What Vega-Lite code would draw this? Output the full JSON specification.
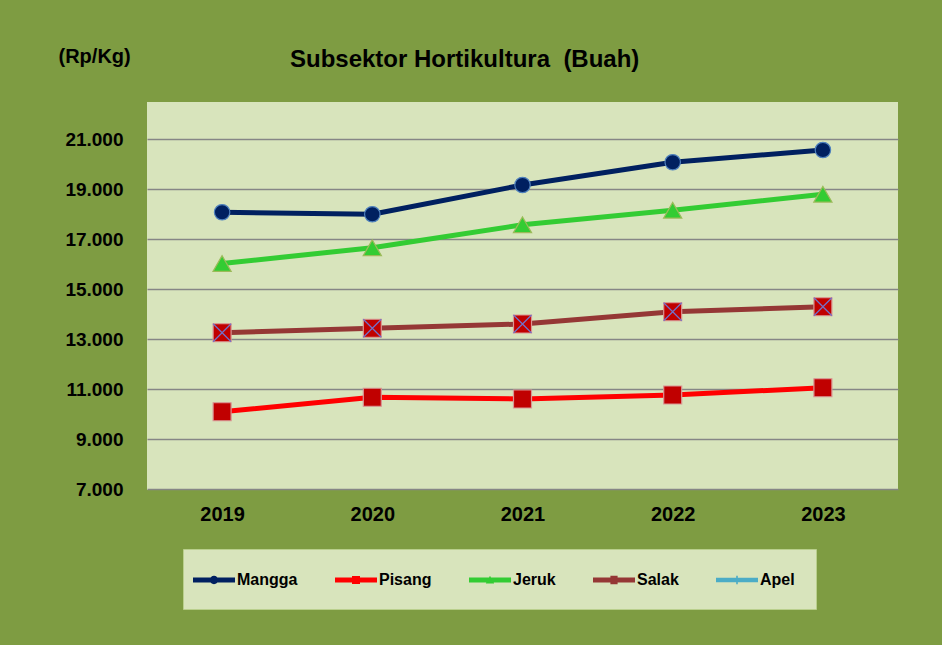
{
  "$schema": "https://vega.github.io/schema/vega-lite/v6.json",
  "width": 751,
  "height": 388,
  "autosize": "none",
  "padding": {"left": 147, "top": 102, "right": 44, "bottom": 155},
  "background": "#7E9C42",
  "title": {
    "text": "Subsektor Hortikultura \u00a0(Buah)",
    "anchor": "start",
    "frame": "group",
    "dx": 143,
    "offset": -45,
    "baseline": "alphabetic",
    "font": "Liberation Sans",
    "fontSize": 24,
    "fontWeight": "bold",
    "color": "#000000"
  },
  "config": {
    "view": {"fill": "#D8E4BC", "stroke": null},
    "font": "Liberation Sans"
  },
  "data": {
    "values": [
      {"Tahun": "2019", "Buah": "Mangga", "Harga": 18080},
      {"Tahun": "2020", "Buah": "Mangga", "Harga": 18000},
      {"Tahun": "2021", "Buah": "Mangga", "Harga": 19170},
      {"Tahun": "2022", "Buah": "Mangga", "Harga": 20080},
      {"Tahun": "2023", "Buah": "Mangga", "Harga": 20570},
      {"Tahun": "2019", "Buah": "Pisang", "Harga": 10100},
      {"Tahun": "2020", "Buah": "Pisang", "Harga": 10680},
      {"Tahun": "2021", "Buah": "Pisang", "Harga": 10610},
      {"Tahun": "2022", "Buah": "Pisang", "Harga": 10770},
      {"Tahun": "2023", "Buah": "Pisang", "Harga": 11060},
      {"Tahun": "2019", "Buah": "Jeruk", "Harga": 16030},
      {"Tahun": "2020", "Buah": "Jeruk", "Harga": 16660},
      {"Tahun": "2021", "Buah": "Jeruk", "Harga": 17580},
      {"Tahun": "2022", "Buah": "Jeruk", "Harga": 18160},
      {"Tahun": "2023", "Buah": "Jeruk", "Harga": 18800},
      {"Tahun": "2019", "Buah": "Salak", "Harga": 13260},
      {"Tahun": "2020", "Buah": "Salak", "Harga": 13440},
      {"Tahun": "2021", "Buah": "Salak", "Harga": 13610},
      {"Tahun": "2022", "Buah": "Salak", "Harga": 14100},
      {"Tahun": "2023", "Buah": "Salak", "Harga": 14300}
    ]
  },
  "encoding": {
    "x": {
      "field": "Tahun",
      "type": "ordinal",
      "scale": {"type": "point", "padding": 0.5},
      "axis": {
        "title": null,
        "domain": false,
        "ticks": false,
        "grid": false,
        "labelAngle": 0,
        "labelPadding": 14,
        "labelFont": "Liberation Sans",
        "labelFontSize": 20,
        "labelFontWeight": "bold",
        "labelColor": "#000000"
      }
    },
    "y": {
      "field": "Harga",
      "type": "quantitative",
      "scale": {"domain": [6970, 22490], "nice": false, "zero": false},
      "axis": {
        "title": "(Rp/Kg)",
        "titleAngle": 0,
        "titleX": -89,
        "titleY": -40,
        "titleAlign": "left",
        "titleBaseline": "alphabetic",
        "titleFont": "Liberation Sans",
        "titleFontSize": 20,
        "titleFontWeight": "bold",
        "titleColor": "#000000",
        "values": [7000, 9000, 11000, 13000, 15000, 17000, 19000, 21000],
        "labelExpr": "replace(format(datum.value, ','), ',', '.')",
        "domain": false,
        "ticks": false,
        "grid": true,
        "gridColor": "#868686",
        "gridWidth": 1.5,
        "labelPadding": 24,
        "labelFont": "Liberation Sans",
        "labelFontSize": 19,
        "labelFontWeight": "bold",
        "labelColor": "#000000"
      }
    }
  },
  "layer": [
    {
      "mark": {"type": "line", "strokeWidth": 5, "strokeCap": "round", "strokeJoin": "round"},
      "encoding": {
        "color": {
          "field": "Buah",
          "type": "nominal",
          "scale": {
            "domain": ["Mangga", "Pisang", "Jeruk", "Salak", "Apel"],
            "range": ["#002060", "#FF0000", "#33CC33", "#953735", "#4BACC6"]
          },
          "legend": {
            "title": null,
            "orient": "none",
            "legendX": 36,
            "legendY": 447,
            "direction": "horizontal",
            "columns": 5,
            "gridAlign": "none",
            "columnPadding": 37,
            "padding": 21,
            "fillColor": "#D8E4BC",
            "strokeColor": "#B9CF8C",
            "symbolSize": 400,
            "labelOffset": 13,
            "labelFont": "Liberation Sans",
            "labelFontSize": 16,
            "labelFontWeight": "bold",
            "labelColor": "#000000",
            "encode": {
              "symbols": {
                "update": {
                  "shape": {"signal": "datum.value == 'Mangga' ? 'M-2.1,-0.25H2.1V0.25H-2.1Z M-0.42,0A0.42,0.42 0 1,1 0.42,0A0.42,0.42 0 1,1 -0.42,0Z' : datum.value == 'Pisang' ? 'M-2.1,-0.25H2.1V0.25H-2.1Z M-0.4,-0.4H0.4V0.4H-0.4Z' : datum.value == 'Jeruk' ? 'M-2.1,-0.25H2.1V0.25H-2.1Z M-0.42,0.36L0,-0.42L0.42,0.36Z' : datum.value == 'Salak' ? 'M-2.1,-0.25H2.1V0.25H-2.1Z M-0.36,-0.42H0.36V0.42H-0.36Z' : 'M-2.1,-0.22H2.1V0.22H-2.1Z M-0.08,-0.42H0.08V0.42H-0.08Z'"},
                  "fill": {"scale": "color", "field": "value"},
                  "stroke": {"value": "transparent"},
                  "strokeWidth": {"value": 0},
                  "opacity": {"value": 1}
                }
              }
            }
          }
        }
      }
    },
    {
      "mark": {"type": "point", "filled": true, "opacity": 1, "strokeWidth": 1.2},
      "encoding": {
        "shape": {
          "condition": [
            {"test": "datum.Buah == 'Mangga'", "value": "circle"},
            {"test": "datum.Buah == 'Jeruk'", "value": "triangle-up"}
          ],
          "value": "square"
        },
        "size": {
          "condition": [
            {"test": "datum.Buah == 'Mangga'", "value": 238},
            {"test": "datum.Buah == 'Jeruk'", "value": 330}
          ],
          "value": 324
        },
        "fill": {
          "condition": [
            {"test": "datum.Buah == 'Mangga'", "value": "#002060"},
            {"test": "datum.Buah == 'Jeruk'", "value": "#33CC33"}
          ],
          "value": "#C00000"
        },
        "stroke": {
          "condition": [
            {"test": "datum.Buah == 'Mangga'", "value": "#4F81BD"},
            {"test": "datum.Buah == 'Jeruk'", "value": "#9BBB59"}
          ],
          "value": "#D99594"
        }
      }
    },
    {
      "transform": [{"filter": "datum.Buah == 'Salak'"}],
      "mark": {
        "type": "point",
        "filled": false,
        "shape": "M-1,-1L1,1M1,-1L-1,1",
        "size": 324,
        "stroke": "#7272CC",
        "strokeWidth": 1.2,
        "opacity": 1
      },
      "encoding": {}
    }
  ]
}
